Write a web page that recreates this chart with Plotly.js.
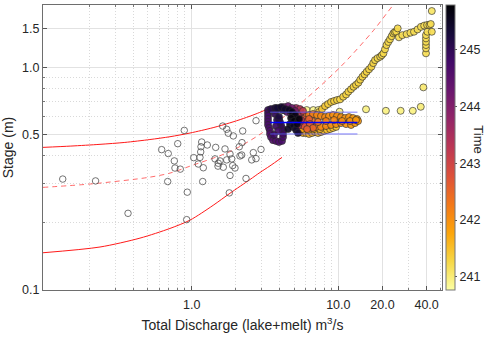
<!DOCTYPE html>
<html>
<head>
<meta charset="utf-8">
<script src="https://cdn.plot.ly/plotly-3.0.1.min.js"></script>
<style>
  body { margin: 0; background: #fff; }
  #chart { width: 500px; height: 339px; }
</style>
</head>
<body>
<div id="chart"></div>
<script>
// rating curves (discharge m3/s, stage m)
const upperQ = [0.0968, 0.15, 0.237, 0.35, 0.519, 0.711, 0.974, 1.4, 1.82, 2.25, 2.8, 3.57];
const upperH = [0.437, 0.443, 0.451, 0.460, 0.474, 0.488, 0.507, 0.536, 0.563, 0.589, 0.621, 0.665];
const dashQ = [0.0968, 0.212, 0.5, 0.711, 0.974, 1.82, 2.92, 5.2, 10.27, 17.3, 23.6, 27];
const dashH = [0.289, 0.30, 0.32, 0.335, 0.36, 0.418, 0.50, 0.665, 1.0, 1.46, 1.90, 2.1];
const lowerQ = [0.0968, 0.237, 0.444, 0.711, 0.974, 1.4, 1.825, 2.5, 2.92, 3.42, 4.13];
const lowerH = [0.147, 0.156, 0.171, 0.189, 0.206, 0.240, 0.272, 0.3135, 0.337, 0.361, 0.394];

// open circles (no time colour)
const hollowQ = [0.132, 0.221, 0.368, 0.624, 0.692, 0.686, 0.933, 0.924, 1.189, 1.805, 1.825, 2.346, 0.890, 1.627, 1.733, 1.777, 1.922, 2.228, 2.746, 0.803, 0.761, 0.769, 0.836, 1.170, 1.157, 1.278, 1.152, 1.032, 1.139, 1.109, 1.200, 1.458, 1.442, 1.518, 1.560, 1.511, 1.643, 1.687, 1.825, 1.733, 1.875, 1.904, 1.974, 2.203, 2.112, 2.135, 2.193, 2.632, 2.746, 2.567, 2.970];
const hollowH = [0.315, 0.309, 0.221, 0.427, 0.410, 0.307, 0.275, 0.207, 0.307, 0.273, 0.327, 0.317, 0.521, 0.545, 0.527, 0.506, 0.492, 0.518, 0.576, 0.454, 0.380, 0.353, 0.349, 0.462, 0.440, 0.448, 0.417, 0.393, 0.394, 0.368, 0.354, 0.437, 0.388, 0.371, 0.380, 0.360, 0.356, 0.430, 0.408, 0.384, 0.388, 0.362, 0.353, 0.459, 0.440, 0.400, 0.404, 0.414, 0.389, 0.384, 0.428];

// time-coloured points, in groups
const paleQ = [3.42, 3.72, 4.21, 4.68, 5.48, 6.09, 6.75, 7.30, 10.2, 15.45, 21.1, 26.6, 32.2, 36.5, 38.0];
const paleH = [0.645, 0.643, 0.643, 0.645, 0.643, 0.643, 0.643, 0.643, 0.632, 0.648, 0.638, 0.638, 0.638, 0.665, 0.813];
const paleT = [240.9, 240.9, 240.9, 240.9, 240.9, 240.9, 240.9, 240.9, 240.95, 240.95, 240.95, 240.95, 240.95, 241.0, 241.05];

const colQ = [39.6, 39.6, 39.6, 39.6, 39.6, 39.6, 40.5, 43.4, 43.4];
const colH = [1.156, 1.217, 1.259, 1.303, 1.349, 1.396, 1.445, 1.445, 1.79];
const colT = [241.2, 241.2, 241.2, 241.2, 241.2, 241.2, 241.2, 241.2, 241.1];

const pathQ = [7.05, 7.39, 7.74, 8.12, 8.51, 8.92, 9.35, 9.80, 10.27, 10.8, 11.3, 11.7, 12.2, 12.7, 13.2, 13.7, 14.1, 14.6, 15.1, 15.6, 16.2, 16.8, 17.3, 17.8, 18.5, 19.3, 19.8, 20.3, 20.8, 21.3, 21.9, 22.5, 23.1, 23.7, 24.2, 24.8, 25.4, 25.9, 27.3, 29.2, 31.0, 32.8, 34.7, 36.6, 38.5, 40.3, 41.8, 42.7];
const pathH = [0.611, 0.630, 0.650, 0.670, 0.684, 0.699, 0.706, 0.713, 0.718, 0.738, 0.755, 0.777, 0.797, 0.818, 0.835, 0.853, 0.880, 0.907, 0.930, 0.955, 0.980, 1.006, 1.045, 1.078, 1.100, 1.116, 1.135, 1.156, 1.205, 1.259, 1.300, 1.336, 1.380, 1.421, 1.440, 1.445, 1.496, 1.364, 1.395, 1.410, 1.43, 1.445, 1.48, 1.52, 1.54, 1.55, 1.55, 1.565];
const pathT = [241.5, 241.45, 241.4, 241.4, 241.35, 241.35, 241.35, 241.3, 241.3, 241.3, 241.3, 241.3, 241.3, 241.3, 241.3, 241.3, 241.3, 241.3, 241.3, 241.3, 241.3, 241.3, 241.3, 241.25, 241.25, 241.25, 241.25, 241.25, 241.25, 241.25, 241.25, 241.25, 241.25, 241.25, 241.25, 241.25, 241.25, 241.2, 241.2, 241.2, 241.2, 241.2, 241.2, 241.2, 241.2, 241.2, 241.2, 241.2];

const bandQ = [5.48, 5.74, 6.02, 6.31, 6.62, 6.93, 7.27, 7.62, 7.99, 8.37, 8.78, 9.20, 9.65, 5.65, 6.21, 6.83, 7.50];
const bandH = [0.512, 0.507, 0.507, 0.502, 0.507, 0.512, 0.507, 0.512, 0.518, 0.523, 0.528, 0.534, 0.540, 0.528, 0.523, 0.528, 0.528];
const bandT = [241.7, 241.7, 241.65, 241.6, 241.6, 241.6, 241.55, 241.55, 241.5, 241.5, 241.5, 241.45, 241.45, 241.8, 241.7, 241.65, 241.6];

const orangeQ = [5.93, 6.31, 6.72, 7.16, 7.62, 8.12, 8.64, 9.20, 9.80, 10.43, 11.11, 11.83, 12.60, 13.42, 6.02, 6.51, 7.05, 7.62, 8.24, 8.92, 9.65, 10.43, 11.29, 12.21, 13.00, 13.63, 6.62, 7.27, 8.24, 9.35, 10.60, 12.02, 13.20];
const orangeH = [0.605, 0.611, 0.617, 0.611, 0.605, 0.598, 0.605, 0.611, 0.605, 0.598, 0.592, 0.598, 0.592, 0.586, 0.551, 0.545, 0.540, 0.540, 0.545, 0.551, 0.556, 0.562, 0.556, 0.551, 0.562, 0.574, 0.574, 0.568, 0.574, 0.580, 0.574, 0.574, 0.580];
const orangeT = [242.3, 242.2, 242.2, 242.1, 242.1, 242.1, 242.0, 242.0, 242.0, 242.0, 241.95, 241.95, 241.9, 241.9, 242.4, 242.3, 242.2, 242.1, 242.1, 242.0, 242.0, 242.0, 241.95, 241.9, 241.9, 241.9, 242.4, 242.3, 242.2, 242.1, 242.0, 241.95, 241.9];

const redQ = [5.48, 5.74, 6.02, 6.31, 5.83, 6.41, 6.72, 5.48, 6.12];
const redH = [0.617, 0.586, 0.568, 0.586, 0.545, 0.556, 0.534, 0.568, 0.528];
const redT = [242.9, 242.8, 242.7, 242.6, 242.8, 242.6, 242.5, 242.9, 242.6];

const magQ = [5.15, 5.48, 5.74, 5.31, 5.57, 5.31];
const magH = [0.657, 0.650, 0.637, 0.605, 0.580, 0.545];
const magT = [243.6, 243.4, 243.2, 243.5, 243.3, 243.4];

const purpQ = [4.26, 4.54, 4.83, 4.47, 4.76, 5.07];
const purpH = [0.663, 0.670, 0.657, 0.630, 0.617, 0.637];
const purpT = [244.4, 244.3, 244.2, 244.5, 244.3, 244.1];

const loopQ = [3.315, 3.315, 3.315, 3.315, 3.315, 3.315, 3.368, 3.42, 3.42, 3.475, 3.585, 3.758, 3.94, 4.13, 4.196, 4.196, 4.196, 4.13, 4.066, 4.00, 3.94, 3.475, 3.70, 3.94, 4.196, 3.70, 3.82, 3.758, 3.88, 3.64, 3.94];
const loopH = [0.643, 0.624, 0.605, 0.586, 0.568, 0.551, 0.534, 0.518, 0.502, 0.486, 0.471, 0.467, 0.462, 0.467, 0.486, 0.502, 0.518, 0.534, 0.551, 0.568, 0.586, 0.650, 0.657, 0.650, 0.643, 0.617, 0.580, 0.545, 0.518, 0.497, 0.600];
const loopT = [244.9, 244.85, 244.8, 244.75, 244.7, 244.7, 244.7, 244.65, 244.65, 244.6, 244.6, 244.6, 244.65, 244.7, 244.75, 244.8, 244.85, 244.9, 244.95, 245.0, 245.05, 245.1, 245.2, 245.2, 245.15, 245.0, 245.1, 244.9, 244.8, 244.85, 245.2];

const darkQ = [3.82, 4.07, 4.33, 4.61, 4.83, 5.07, 4.76, 4.99, 4.68, 4.91, 5.15, 5.31, 4.54, 5.23, 5.40];
const darkH = [0.657, 0.663, 0.650, 0.643, 0.630, 0.611, 0.592, 0.574, 0.556, 0.540, 0.523, 0.507, 0.528, 0.556, 0.586];
const darkT = [245.3, 245.4, 245.4, 245.5, 245.6, 245.6, 245.7, 245.7, 245.6, 245.5, 245.4, 245.3, 245.5, 245.6, 245.7];

// blue reference lines
const blueQ = [3.43, 13.5];
const blueTopH = [0.629, 0.629];
const blueMidH = [0.565, 0.565];
const blueLowH = [0.502, 0.502];

const xTicks = [1, 10, 20, 40];
const xTickText = ['1.0', '10.0', '20.0', '40.0'];
const yTicks = [0.1, 0.5, 1, 1.5];
const yTickText = ['0.1', '0.5', '1.0', '1.5'];
const xMinor = [0.2, 0.3, 0.4, 0.5, 0.6, 0.7, 0.8, 0.9, 2, 3, 4, 5, 6, 7, 8, 9, 30, 50];
const yMinor = [0.2, 0.3, 0.4, 0.6, 0.7, 0.8, 0.9];
const timeTicks = [241, 242, 243, 244, 245];

const inferno = [
  [0, '#fcffa4'], [0.1, '#f6d746'], [0.2, '#fca50a'], [0.3, '#f37819'],
  [0.4, '#dd513a'], [0.5, '#bc3754'], [0.6, '#932667'], [0.7, '#6a176e'],
  [0.8, '#420a68'], [0.9, '#160b39'], [1, '#000004']
];

const font = 'Liberation Sans, Arial, sans-serif';

function curve(x, y, line) {
  return { x, y, type: 'scatter', mode: 'lines', line: Object.assign({ shape: 'spline', smoothing: 0.8, width: 1 }, line), hoverinfo: 'skip' };
}

function timed(x, y, t) {
  return {
    x, y, type: 'scatter', mode: 'markers',
    marker: { color: t, coloraxis: 'coloraxis', size: 7, opacity: 0.92, line: { color: '#2a2a2a', width: 0.7 } }
  };
}

const traces = [
  curve(upperQ, upperH, { color: '#ff1a1a' }),
  curve(dashQ, dashH, { color: 'rgba(255,70,70,0.8)', dash: '5px,4px' }),
  curve(lowerQ, lowerH, { color: '#ff1a1a' }),
  {
    x: hollowQ, y: hollowH, type: 'scatter', mode: 'markers',
    marker: { size: 6.5, color: 'rgba(255,255,255,0)', line: { color: '#505050', width: 0.8 } }
  },
  timed(paleQ, paleH, paleT),
  timed(colQ, colH, colT),
  timed(pathQ, pathH, pathT),
  timed(bandQ, bandH, bandT),
  timed(orangeQ, orangeH, orangeT),
  timed(redQ, redH, redT),
  timed(magQ, magH, magT),
  timed(purpQ, purpH, purpT),
  timed(loopQ, loopH, loopT),
  timed(darkQ, darkH, darkT),
  { x: blueQ, y: blueTopH, type: 'scatter', mode: 'lines', line: { color: 'rgba(90,90,255,0.8)', width: 1 } },
  { x: blueQ, y: blueMidH, type: 'scatter', mode: 'lines', line: { color: '#0000ff', width: 1.5 } },
  { x: blueQ, y: blueLowH, type: 'scatter', mode: 'lines', line: { color: 'rgba(90,90,255,0.8)', width: 1 } }
];

const axisBase = {
  type: 'log',
  showline: true, linecolor: '#6e6e6e', linewidth: 1, mirror: 'ticks',
  ticks: 'inside', ticklen: 4, tickcolor: '#555',
  showgrid: true, gridcolor: '#e2e2e2', gridwidth: 1,
  zeroline: false,
  tickfont: { family: font, size: 12.5, color: '#262626' }
};

const minorGrid = { tickmode: 'array', showgrid: true, gridcolor: '#d9d9d9', gridwidth: 1, griddash: '1px,2px', ticks: 'inside', ticklen: 2, tickcolor: '#777' };

const layout = {
  width: 500, height: 339,
  margin: { l: 43, r: 58, t: 5, b: 49 },
  paper_bgcolor: '#fff', plot_bgcolor: '#fff',
  showlegend: false,
  font: { family: font, color: '#262626' },
  xaxis: Object.assign({}, axisBase, {
    range: [-1.014, 1.707],
    tickmode: 'array', tickvals: xTicks, ticktext: xTickText,
    ticklabelstandoff: 3,
    minor: Object.assign({ tickvals: xMinor }, minorGrid),
    title: { text: 'Total Discharge (lake+melt) m<sup>3</sup>/s', font: { family: font, size: 14, color: '#262626' }, standoff: 9 }
  }),
  yaxis: Object.assign({}, axisBase, {
    range: [-1, 0.28],
    tickmode: 'array', tickvals: yTicks, ticktext: yTickText,
    minor: Object.assign({ tickvals: yMinor }, minorGrid),
    title: { text: 'Stage (m)', font: { family: font, size: 14, color: '#262626' }, standoff: 6 }
  }),
  coloraxis: {
    cmin: 240.77, cmax: 245.78,
    colorscale: inferno,
    colorbar: {
      x: 1.01, xanchor: 'left', xpad: 0, ypad: 0,
      y: 0.5, yanchor: 'middle', len: 1, thickness: 9,
      outlinewidth: 1, outlinecolor: '#777',
      tickmode: 'array', tickvals: timeTicks,
      ticks: 'outside', ticklen: 2, tickcolor: '#555',
      tickfont: { family: font, size: 12.5, color: '#262626' }
    }
  },
  annotations: [{
    text: 'Time', xref: 'paper', yref: 'paper', x: 1.113, y: 0.53,
    textangle: 90, showarrow: false,
    font: { family: font, size: 13, color: '#262626' }
  }]
};

Plotly.newPlot('chart', traces, layout, { displayModeBar: false, staticPlot: true });
</script>
</body>
</html>
